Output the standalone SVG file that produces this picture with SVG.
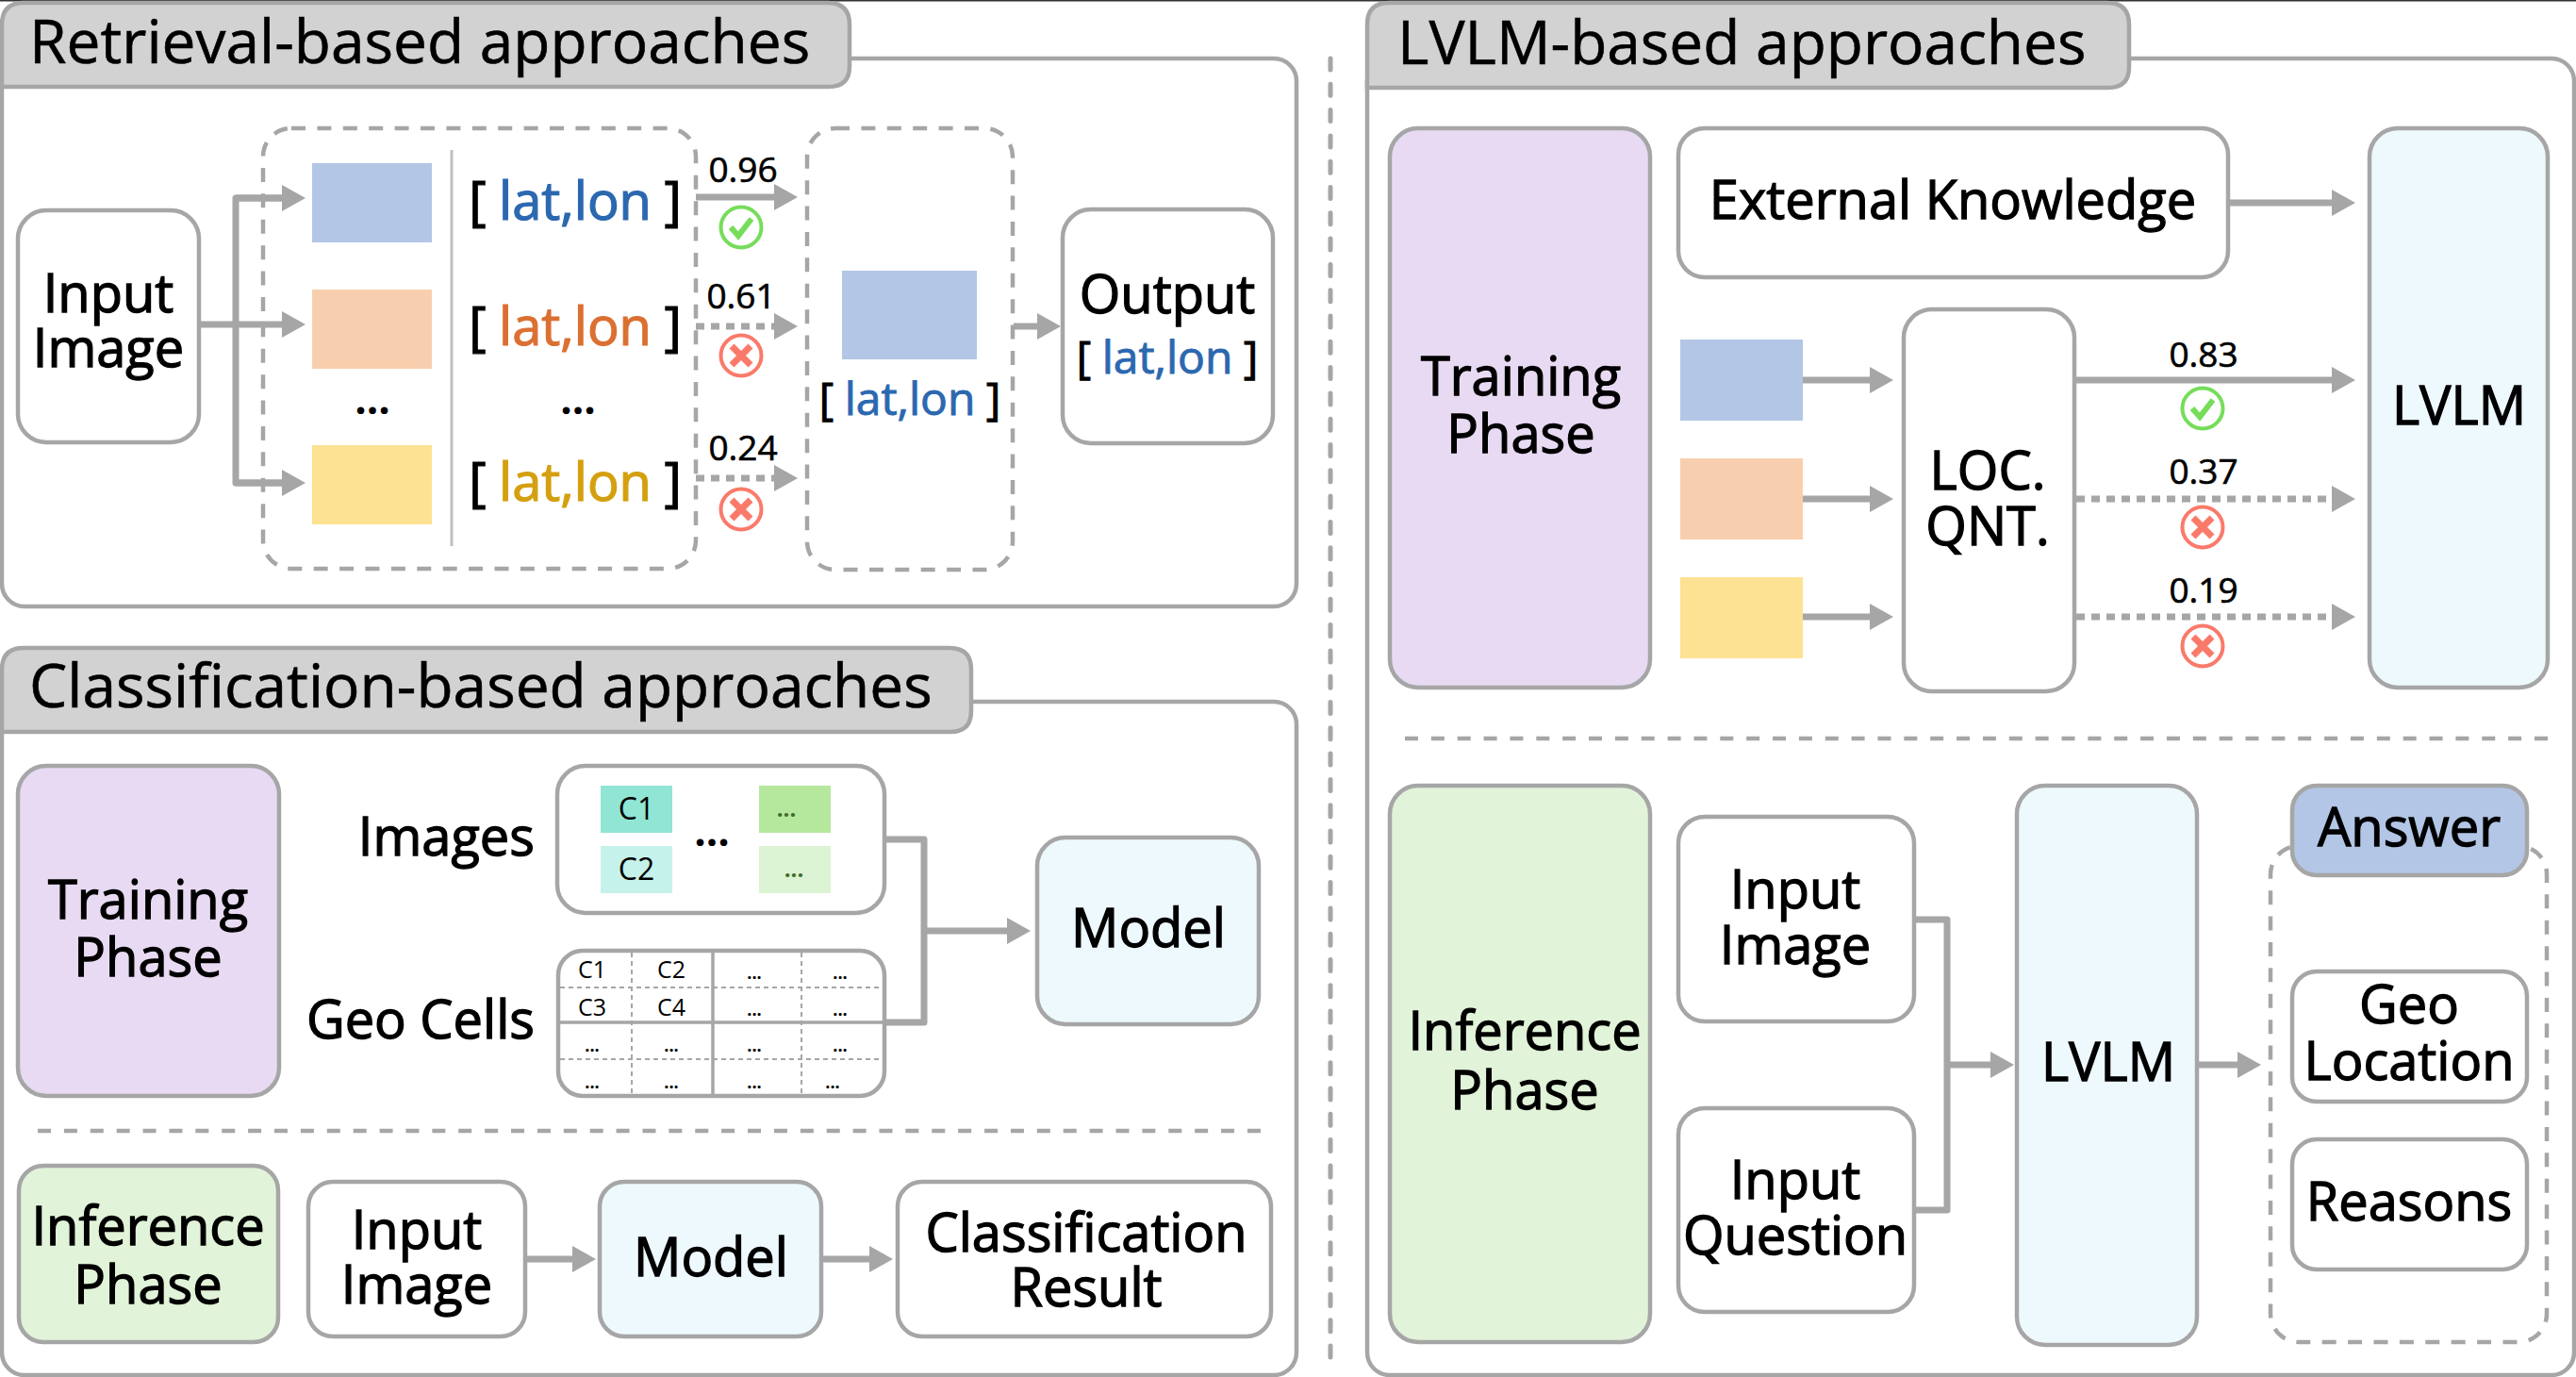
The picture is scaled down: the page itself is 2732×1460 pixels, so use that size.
<svg xmlns="http://www.w3.org/2000/svg" width="2732" height="1460" viewBox="0 0 2732 1460">
<style>
text{font-family:"Open Sans","Noto Sans","DejaVu Sans",sans-serif;fill:#000;text-anchor:middle}
.t,.b,.ll,.ls{transform:translateY(1.5px)}
.t{font-size:64px;text-anchor:start;stroke:#000;stroke-width:.6}
.b{font-size:56px;stroke:#000;stroke-width:1.3}
.s{font-size:37px;stroke:#000;stroke-width:.6}
.c{font-size:32px}
.g{font-size:25px}
.d{font-size:18px;font-weight:700}
.dg{font-size:24px;font-weight:700;fill:#3d6b2c}
.m{font-size:44px;font-weight:700}
.ll{font-size:56px;word-spacing:-1px;stroke:#000;stroke-width:1.2}
.ls{font-size:48px;word-spacing:-1px;stroke:#000;stroke-width:.9}
.n{fill:#fff;stroke:#a6a6a6;stroke-width:4.5}
.h{fill:#d2d2d2;stroke:#a6a6a6;stroke-width:4.5}
.ds{fill:none;stroke:#a6a6a6;stroke-width:4.5;stroke-dasharray:15 12.4}
.w{fill:none;stroke:#a6a6a6;stroke-width:7;stroke-linejoin:round}
.dt{fill:none;stroke:#a6a6a6;stroke-width:7;stroke-dasharray:9 7}
.a{marker-end:url(#arr)}
.ok{fill:none;stroke:#76dd5a;stroke-width:4}
.okm{fill:none;stroke:#76dd5a;stroke-width:6}
.no{fill:none;stroke:#fa7a6a;stroke-width:4}
.nom{fill:none;stroke:#fa7a6a;stroke-width:7}
.gd{stroke:#a6a6a6;stroke-width:2;stroke-dasharray:5 4;fill:none}
.gs{stroke:#a6a6a6;stroke-width:3.5;fill:none}
.bl{fill:#2b68b0;stroke:#2b68b0}
.or{fill:#db7032;stroke:#db7032}
.ye{fill:#d4a00f;stroke:#d4a00f}
</style>
<defs>
<marker id="arr" markerUnits="userSpaceOnUse" markerWidth="26" markerHeight="30" refX="0" refY="15" orient="auto"><path d="M0 1L25 15L0 29Z" fill="#a6a6a6"/></marker>
<g id="okI"><circle r="21.5" class="ok"/><path d="M-11 0L-3 9L11 -9" class="okm"/></g>
<g id="noI"><circle r="21.5" class="no"/><path d="M-10 -10L10 10M10 -10L-10 10" class="nom"/></g>
</defs>
<rect width="2732" height="1460" fill="#fff"/>
<rect width="2732" height="1.5" fill="#333"/>

<g id="panel-retrieval">
<rect x="2" y="62" width="1373" height="581" rx="24" class="n"/>
<path d="M2 92V26Q2 3 25 3H878Q901 3 901 26V70Q901 92 879 92Z" class="h"/>
<text x="31" y="65" class="t">Retrieval-based approaches</text>
</g>
<g id="panel-classification">
<rect x="2" y="744" width="1373" height="714" rx="24" class="n"/>
<path d="M2 776V710Q2 687 25 687H1007Q1030 687 1030 710V754Q1030 776 1008 776Z" class="h"/>
<text x="31" y="748" class="t">Classification-based approaches</text>
<line x1="40" y1="1199" x2="1337" y2="1199" class="ds" style="stroke-dasharray:14 13.89"/>
</g>
<g id="panel-lvlm">
<rect x="1450" y="62" width="1280" height="1396" rx="24" class="n"/>
<path d="M1450 93V26Q1450 3 1473 3H2235Q2258 3 2258 26V71Q2258 93 2236 93Z" class="h"/>
<text x="1482" y="66" class="t">LVLM-based approaches</text>
<line x1="1490" y1="783" x2="2702" y2="783" class="ds" style="stroke-dasharray:14 13.86"/>
</g>
<line id="divider" x1="1411" y1="62" x2="1411" y2="1450" stroke="#a6a6a6" stroke-width="5" stroke-linecap="round" stroke-dasharray="12 15.3"/>

<g id="connectors">
<path d="M211 344H299" class="w a"/>
<path d="M299 210H250V512H299" class="w"/>
<path d="M250 210H299" class="w a"/>
<path d="M250 512H299" class="w a"/>
<path d="M738 209H821" class="w a"/>
<path d="M738 346H821" class="dt a"/>
<path d="M738 507H821" class="dt a"/>
<path d="M1075 346H1100" class="w a"/>
<path d="M938 890H980V1084H938" class="w"/>
<path d="M980 987H1068" class="w a"/>
<path d="M557 1335H607" class="w a"/>
<path d="M873 1335H922" class="w a"/>
<path d="M2363 215H2473" class="w a"/>
<path d="M1912 403H1983" class="w a"/>
<path d="M1912 529H1983" class="w a"/>
<path d="M1912 654H1983" class="w a"/>
<path d="M2202 403H2473" class="w a"/>
<path d="M2202 529H2473" class="dt a"/>
<path d="M2202 654H2473" class="dt a"/>
<path d="M2030 975H2065V1283H2030" class="w"/>
<path d="M2065 1129H2111" class="w a"/>
<path d="M2331 1129H2373" class="w a"/>
</g>

<g id="node-input-image"><rect x="19" y="223" width="192" height="246" rx="30" class="n"/><text class="b"><tspan x="115" y="329">Input</tspan><tspan x="115" y="387">Image</tspan></text></g>
<g id="node-candidates">
<rect x="279" y="136" width="459" height="467" rx="30" class="ds"/>
<rect x="331" y="173" width="127" height="84" fill="#b3c6e6"/>
<rect x="331" y="307" width="127" height="84" fill="#f8cfae"/>
<rect x="331" y="472" width="127" height="84" fill="#fde293"/>
<line x1="479" y1="159" x2="479" y2="579" stroke="#bfbfbf" stroke-width="3"/>
<text x="610" y="231" class="ll">[ <tspan class="bl">lat,lon</tspan> ]</text>
<text x="610" y="364" class="ll">[ <tspan class="or">lat,lon</tspan> ]</text>
<text x="610" y="529" class="ll">[ <tspan class="ye">lat,lon</tspan> ]</text>
<text x="395" y="439" class="m">...</text>
<text x="613" y="439" class="m">...</text>
</g>
<g id="scores-retrieval">
<text x="788" y="193" class="s">0.96</text><use href="#okI" x="786" y="241"/>
<text x="786" y="327" class="s">0.61</text><use href="#noI" x="786" y="377"/>
<text x="788" y="488" class="s">0.24</text><use href="#noI" x="786" y="540"/>
</g>
<g id="node-selected">
<rect x="856" y="136" width="218" height="468" rx="30" class="ds"/>
<rect x="893" y="287" width="143" height="94" fill="#b3c6e6"/>
<text x="965" y="438" class="ls">[ <tspan class="bl">lat,lon</tspan> ]</text>
</g>
<g id="node-output"><rect x="1127" y="222" width="223" height="248" rx="30" class="n"/><text x="1238" y="330" class="b">Output</text><text x="1238" y="394" class="ls">[ <tspan class="bl">lat,lon</tspan> ]</text></g>

<g id="node-training-c"><rect x="19" y="812" width="277" height="350" rx="30" class="n" style="fill:#e7daf2"/><text class="b"><tspan x="157" y="972">Training</tspan><tspan x="157" y="1033">Phase</tspan></text></g>
<text x="567" y="905" class="b" style="text-anchor:end">Images</text>
<text x="567" y="1099" class="b" style="text-anchor:end">Geo Cells</text>
<g id="node-images"><rect x="591" y="812" width="347" height="156" rx="30" class="n"/>
<rect x="637" y="833" width="76" height="50" fill="#90e5d5"/><rect x="637" y="897" width="76" height="50" fill="#c5f2eb"/>
<rect x="805" y="833" width="76" height="50" fill="#b5e89d"/><rect x="805" y="897" width="76" height="50" fill="#dcf4d3"/>
<text x="675" y="869" class="c">C1</text><text x="675" y="933" class="c">C2</text>
<text x="755" y="897" class="m">...</text>
<text x="834" y="866" class="dg">...</text><text x="842" y="930" class="dg">...</text></g>
<g id="node-geocells"><rect x="592" y="1008" width="346" height="154" rx="26" class="n"/>
<path d="M670 1010V1160M850 1010V1160M594 1047H936M594 1123H936" class="gd"/>
<path d="M756 1010V1160M594 1084H936" class="gs"/>
<text x="628" y="1037" class="g">C1</text><text x="712" y="1037" class="g">C2</text><text x="628" y="1077" class="g">C3</text><text x="712" y="1077" class="g">C4</text>
<text x="800" y="1038" class="d">...</text><text x="891" y="1038" class="d">...</text>
<text x="800" y="1077" class="d">...</text><text x="891" y="1077" class="d">...</text>
<text x="628" y="1115" class="d">...</text><text x="712" y="1115" class="d">...</text><text x="800" y="1115" class="d">...</text><text x="891" y="1115" class="d">...</text>
<text x="628" y="1154" class="d">...</text><text x="712" y="1154" class="d">...</text><text x="800" y="1154" class="d">...</text><text x="883" y="1154" class="d">...</text></g>
<g id="node-model-a"><rect x="1100" y="888" width="235" height="198" rx="30" class="n" style="fill:#eef9fe"/><text x="1218" y="1002" class="b">Model</text></g>
<g id="node-inference-c"><rect x="20" y="1236" width="275" height="187" rx="26" class="n" style="fill:#e1f3d8"/><text class="b"><tspan x="157" y="1318">Inference</tspan><tspan x="157" y="1380">Phase</tspan></text></g>
<g id="node-input-c"><rect x="327" y="1253" width="230" height="164" rx="26" class="n"/><text class="b"><tspan x="442" y="1322">Input</tspan><tspan x="442" y="1380">Image</tspan></text></g>
<g id="node-model-b"><rect x="636" y="1253" width="235" height="164" rx="26" class="n" style="fill:#eef9fe"/><text x="754" y="1351" class="b">Model</text></g>
<g id="node-class-result"><rect x="952" y="1253" width="396" height="164" rx="26" class="n"/><text class="b"><tspan x="1152" y="1325">Classification</tspan><tspan x="1152" y="1383">Result</tspan></text></g>

<g id="node-training-l"><rect x="1474" y="136" width="276" height="593" rx="30" class="n" style="fill:#e7daf2"/><text class="b"><tspan x="1613" y="417">Training</tspan><tspan x="1613" y="478">Phase</tspan></text></g>
<g id="node-external"><rect x="1780" y="136" width="583" height="158" rx="28" class="n"/><text x="2071" y="230" class="b">External Knowledge</text></g>
<g id="node-lvlm-a"><rect x="2513" y="136" width="189" height="593" rx="30" class="n" style="fill:#eef9fe"/><text x="2608" y="448" class="b">LVLM</text></g>
<rect x="1782" y="360" width="130" height="86" fill="#b3c6e6"/>
<rect x="1782" y="486" width="130" height="86" fill="#f8cfae"/>
<rect x="1782" y="612" width="130" height="86" fill="#fde293"/>
<g id="node-loc"><rect x="2019" y="328" width="181" height="405" rx="30" class="n"/><text class="b"><tspan x="2108" y="517">LOC.</tspan><tspan x="2108" y="576">QNT.</tspan></text></g>
<g id="scores-lvlm">
<text x="2337" y="389" class="s">0.83</text><use href="#okI" x="2336" y="433"/>
<text x="2337" y="513" class="s">0.37</text><use href="#noI" x="2336" y="559"/>
<text x="2337" y="639" class="s">0.19</text><use href="#noI" x="2336" y="685"/>
</g>
<g id="node-inference-l"><rect x="1474" y="833" width="276" height="590" rx="30" class="n" style="fill:#e1f3d8"/><text class="b"><tspan x="1617" y="1111">Inference</tspan><tspan x="1617" y="1174">Phase</tspan></text></g>
<g id="node-input-l"><rect x="1780" y="866" width="250" height="217" rx="28" class="n"/><text class="b"><tspan x="1904" y="961">Input</tspan><tspan x="1904" y="1020">Image</tspan></text></g>
<g id="node-question"><rect x="1780" y="1175" width="250" height="216" rx="28" class="n"/><text class="b"><tspan x="1904" y="1269">Input</tspan><tspan x="1904" y="1328">Question</tspan></text></g>
<g id="node-lvlm-b"><rect x="2139" y="833" width="191" height="593" rx="30" class="n" style="fill:#eef9fe"/><text x="2236" y="1144" class="b">LVLM</text></g>
<g id="node-answer">
<rect x="2408" y="897" width="293" height="526" rx="30" class="ds"/>
<rect x="2431" y="833" width="249" height="95" rx="26" class="n" style="fill:#b3c6e6"/><text x="2555" y="895" class="b">Answer</text>
<rect x="2431" y="1030" width="249" height="138" rx="26" class="n"/><text class="b"><tspan x="2555" y="1083">Geo</tspan><tspan x="2555" y="1143">Location</tspan></text>
<rect x="2431" y="1208" width="249" height="138" rx="26" class="n"/><text x="2555" y="1292" class="b">Reasons</text>
</g>
</svg>
